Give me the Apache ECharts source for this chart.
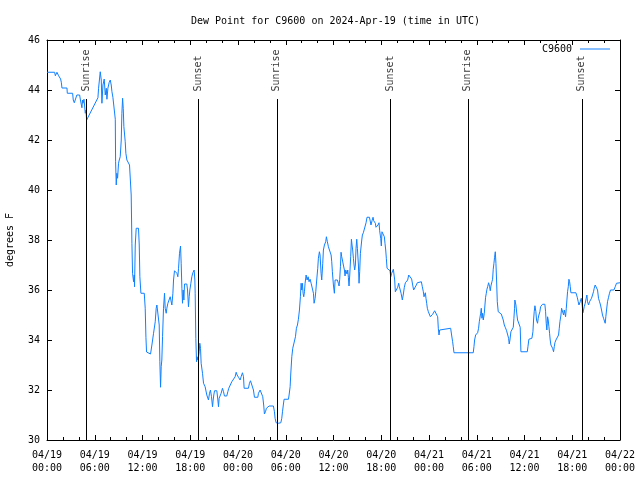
<!DOCTYPE html>
<html><head><meta charset="utf-8">
<script src="https://cdn.jsdelivr.net/npm/echarts@6/dist/echarts.min.js"></script>
<style>html,body{margin:0;background:#fff}#c{width:640px;height:480px}</style>
</head><body><div id="c"></div>
<script>
const titleText = 'Dew Point for C9600 on 2024-Apr-19 (time in UTC)';
const seriesName = 'C9600';
const yAxisName = 'degrees F';
// hours since 2024-04-19 00:00 UTC
const sunriseHours = [4.97, 28.95, 52.92];
const sunsetHours = [19.03, 43.17, 67.24];
const yTicks = [30, 32, 34, 36, 38, 40, 42, 44, 46];
// [hours since 04/19 00:00 UTC, dew point °F]
const dewPoint = [
[0,44.71],[0.96,44.71],[1.05,44.57],[1.17,44.57],[1.25,44.71],[1.38,44.71],[1.46,44.57],[1.54,44.57],[1.71,44.44],[1.80,44.31],[1.88,44.08],[2.51,44.08],[2.55,43.87],[3.22,43.87],[3.30,43.6],[3.43,43.49],[3.64,43.49],[3.75,43.8],[4.10,43.8],[4.20,43.6],[4.39,43.29],[4.45,43.6],[4.52,43.47],[4.65,43.63],[4.72,43.63],[4.81,43.07],[4.89,43.2],[4.98,42.8],
[6.40,43.69],[6.48,44.07],[6.69,44.73],[6.82,44.4],[6.90,43.47],[7.03,44.2],[7.19,44.44],[7.32,43.8],[7.45,44.07],[7.53,43.63],[7.65,44.07],[7.82,44.31],[7.95,44.4],[8.07,44.2],[8.16,43.93],[8.28,43.71],[8.49,43.71],[8.58,42.83],[8.62,41.13],[8.70,40.2],[8.78,40.67],[8.87,40.47],[8.99,41.07],[9.08,41.2],[9.20,41.33],[9.33,42.0],[9.41,43.07],[9.50,43.67],[9.58,43.27],[9.66,42.53],[9.83,41.93],[9.91,41.47],[10.04,41.2],[10.25,41.13],[10.37,41.0],[10.50,40.93],[10.58,39.8],[10.67,37.87],[10.75,36.67],[10.88,36.33],[10.96,36.6],[11.00,36.13],[11.09,37.8],[11.21,38.47],[11.50,38.47],[11.59,37.8],[11.67,36.53],[11.80,35.87],[12.22,35.87],[12.34,35.27],[12.43,34.11],[12.51,33.52],[12.76,33.52],[13.01,33.44],[13.18,33.8],[13.39,34.27],[13.60,34.73],[13.72,35.27],[13.81,35.4],[14.02,35.4],[14.10,34.6],[14.18,33.13],[14.27,32.11],[14.35,32.93],[14.43,33.2],[14.52,34.13],[14.64,35.27],[14.77,35.87],[14.85,35.27],[14.98,35.07],[15.06,35.27],[15.19,35.47],[15.35,35.53],[15.48,35.73],[15.61,35.8],[15.69,35.4],[15.82,35.87],[15.90,36.4],[16.02,36.77],[16.32,36.67],[16.44,36.53],[16.53,36.87],[16.65,37.47],[16.78,37.76],[16.86,37.07],[16.95,36.07],[17.03,35.47],[17.11,36.0],[17.20,35.6],[17.28,36.24],[17.57,36.24],[17.66,36.0],[17.78,35.33],
[17.87,35.73],[17.95,36.0],[18.08,36.27],[18.20,36.53],[18.33,36.69],[18.41,36.67],[18.49,36.8],[18.58,36.4],[18.62,35.87],[18.70,34.07],[18.79,33.13],[18.87,33.33],[18.95,33.2],[19.04,33.33],[19.12,33.53],[19.20,33.87],[19.29,33.67],[19.37,33.07],[19.54,32.67],[19.67,32.27],[19.87,32.13],[20.08,31.8],[20.21,31.87],[20.29,31.6],[20.42,31.87],[20.54,32.0],[20.67,31.73],[20.80,31.33],[20.88,31.6],[20.96,31.8],[21.05,31.97],[21.34,31.97],[21.47,31.6],[21.55,31.33],[21.63,31.67],[21.76,31.6],[21.88,31.87],[22.05,32.07],[22.18,31.93],[22.30,31.76],[22.59,31.76],[22.72,31.93],[22.84,32.07],[23.06,32.13],[23.22,32.33],[23.47,32.4],[23.64,32.53],[23.77,32.71],[23.89,32.6],[24.06,32.51],[24.27,32.4],[24.39,32.53],[24.56,32.69],[24.69,32.53],[24.77,32.07],[25.31,32.07],[25.44,32.27],[25.57,32.37],[25.82,32.37],[25.94,32.0],[26.07,31.71],[26.49,31.71],[26.57,31.87],[26.78,32.0],[26.99,32.03],[27.11,31.73],[27.24,31.36],[27.32,31.04],[27.45,31.13],[27.57,31.27],[27.74,31.33],[27.91,31.36],[28.45,31.36],[28.58,31.13],[28.66,30.87],[28.79,30.69],[29.08,30.67],[29.38,30.69],[29.50,30.87],[29.59,31.13],[29.71,31.44],[29.79,31.63],[30.34,31.63],[30.42,31.8],[30.55,32.13],[30.63,32.64],[30.76,33.33],[30.88,33.67],[31.09,33.71],[31.22,34.13],[31.34,34.47],[31.47,34.6],[31.59,34.83],[31.72,35.2],[31.84,35.73],[31.93,36.27],[32.01,36.0],[32.09,36.27],[32.18,35.87],[32.26,35.73],[32.35,35.93],[32.43,36.27],[32.56,36.6],[32.68,36.4],[32.81,36.53],[32.93,36.33],[33.06,36.43],[33.19,36.27],[33.35,36.27],[33.48,35.87],[33.56,35.47],[33.69,35.67],[33.77,35.93],[33.89,36.4],[34.02,36.87],[34.10,37.27],[34.23,37.53],[34.31,37.4],[34.44,36.67],[34.52,36.4],[34.65,37.07],[34.73,37.6],[34.86,37.8],[35.02,37.93],[35.11,38.13],[35.23,37.93],[35.36,37.73],[35.49,37.6],[35.61,37.6],[35.70,37.4],[35.78,37.13],[35.86,36.73],[35.99,36.2],[36.11,35.87],
[36.20,36.4],[36.28,36.43],[36.49,36.4],[36.61,36.27],[36.70,36.16],[36.78,36.43],[36.87,36.93],[36.95,37.51],[37.03,37.33],[37.12,37.2],[37.24,37.0],[37.37,36.8],[37.45,36.56],[37.54,36.8],[37.62,36.87],[37.70,36.64],[37.79,36.8],[37.87,36.51],[37.95,36.16],[38.04,36.6],[38.16,37.33],[38.25,38.03],[38.33,37.8],[38.41,37.6],[38.50,37.27],[38.58,37.0],[38.66,36.8],[38.75,37.0],[38.83,37.67],[38.92,38.03],[39.00,37.67],[39.13,37.0],[39.21,36.27],[39.29,36.73],[39.38,37.47],[39.46,37.51],[39.55,38.0],[39.63,38.2],[39.75,38.29],[39.84,38.27],[39.96,38.33],[40.09,38.69],[40.21,38.91],[40.51,38.91],[40.59,38.8],[40.71,38.6],[40.84,38.77],[40.97,38.91],[41.05,38.77],[41.13,38.69],[41.26,38.67],[41.34,38.51],[41.47,38.43],[41.59,38.6],[41.72,38.69],[41.80,38.37],[41.93,38.07],[42.01,37.76],[42.09,38.33],[42.18,38.4],[42.30,38.27],[42.39,38.13],[42.47,37.87],[42.56,37.6],[42.64,37.27],[42.73,36.87],[42.85,36.87],[42.98,36.8],[43.10,36.77],[43.19,36.53],[43.31,36.67],[43.44,36.73],[43.52,36.83],[43.60,36.87],[43.69,36.4],[43.77,35.93],[43.94,35.93],[44.07,36.11],[44.19,36.27],[44.28,36.13],[44.36,36.07],[44.49,35.87],[44.57,35.8],[44.65,35.6],[44.78,35.84],[44.90,36.11],[45.03,36.29],[45.19,36.33],[45.32,36.4],[45.45,36.6],[45.70,36.6],[45.82,36.44],[45.95,36.2],[46.07,36.0],[46.28,36.0],[46.41,36.2],[46.53,36.29],[46.66,36.33],[47.04,36.33],[47.16,36.13],[47.29,35.93],[47.37,35.73],[47.45,35.8],[47.54,35.89],[47.62,35.67],[47.71,35.47],[47.79,35.27],[47.92,35.13],[48.04,35.07],[48.17,34.93],[48.33,34.93],[48.46,35.03],[48.59,35.09],[48.71,35.17],[48.96,35.17],[49.09,34.93],[49.17,34.47],[49.26,34.2],[49.34,34.4],[49.46,34.47],[50.72,34.47],[50.84,34.2],[50.97,33.93],[51.05,33.73],[51.14,33.49],[53.56,33.49],[53.65,33.73],[53.73,34.0],[53.86,34.2],[53.98,34.2],[54.11,34.29],[54.23,34.47],[54.32,34.73],
[54.49,35.07],[54.57,35.27],[54.65,34.87],[54.74,35.07],[54.82,34.8],[54.95,35.07],[55.03,35.4],[55.11,35.71],[55.20,35.87],[55.28,36.03],[55.37,36.13],[55.49,36.29],[55.62,36.13],[55.70,35.97],[55.78,36.16],[55.91,36.33],[55.99,36.43],[56.07,36.83],[56.16,37.07],[56.24,37.31],[56.33,37.53],[56.41,37.07],[56.49,36.4],[56.58,35.53],[56.70,35.13],[56.83,35.07],[57.08,35.04],[57.20,34.96],[57.33,34.8],[57.46,34.6],[57.58,34.51],[57.75,34.37],[57.88,34.33],[58.00,34.07],[58.08,33.84],[58.17,34.0],[58.29,34.33],[58.46,34.37],[58.59,34.51],[58.67,34.87],[58.75,35.27],[58.79,35.6],[58.92,35.4],[59.05,35.0],[59.13,34.8],[59.26,34.87],[59.38,34.73],[59.46,34.51],[59.55,33.53],[60.35,33.53],[60.43,33.73],[60.55,34.03],[60.68,34.03],[60.93,34.07],[61.06,34.33],[61.14,34.8],[61.22,35.13],[61.31,35.37],[61.43,35.13],[61.51,34.8],[61.64,34.67],[61.72,34.87],[61.81,35.0],[61.93,35.13],[62.02,35.33],[62.10,35.4],[62.27,35.43],[62.56,35.43],[62.65,35.13],[62.73,34.67],[62.81,34.4],[62.90,34.93],[62.98,34.8],[63.07,34.53],[63.15,34.27],[63.23,34.0],[63.32,33.8],[63.44,33.84],[63.53,33.67],[63.65,33.53],[63.74,33.73],[63.82,33.89],[63.95,34.0],[64.16,34.03],[64.28,34.2],[64.37,34.47],[64.45,34.73],[64.58,35.0],[64.66,35.27],[64.83,35.2],[64.91,35.0],[65.00,35.2],[65.08,35.07],[65.16,34.93],[65.25,35.27],[65.33,35.6],[65.41,35.93],[65.50,36.13],[65.58,36.43],[65.67,36.33],[65.75,36.13],[65.83,35.89],[66.46,35.89],[66.63,35.71],[66.75,35.53],[66.84,35.4],[66.92,35.33],[67.00,35.53],[67.13,35.67],[67.25,35.4],[67.34,35.09],[67.42,35.2],[67.50,35.33],[67.63,35.47],[67.75,35.67],[67.84,35.8],[67.92,35.53],[68.05,35.4],[68.17,35.53],[68.30,35.6],[68.42,35.67],[68.55,35.8],[68.67,35.93],[68.76,36.07],[68.88,36.2],[68.97,36.13],[69.05,36.27],[69.18,36.0],[69.30,35.67],[69.43,35.53],[69.55,35.4],[69.68,35.2],[69.80,35.0],[69.93,34.87],[70.05,34.8],[70.14,34.67],[70.22,34.93],[70.31,35.2],[70.43,35.53],[70.56,35.71],[70.68,35.87],[70.81,36.0],[71.23,36.0],[71.40,36.13],[71.56,36.27],[71.69,36.29],[72.0,36.29]
];

const FONT = 'DejaVu Sans Mono';
const LINE = '#1080ff';
const LINE_TOP = 43.64;   // where sunrise/sunset lines stop (°F scale)
const LABEL_Y = 43.92;    // where sunrise/sunset labels start

function xLabel(h) {
  const d = 19 + Math.floor(h / 24);
  const hh = h % 24;
  return '04/' + d + '\n' + String(hh).padStart(2, '0') + ':00';
}

const events = sunriseHours.map(t => ({t, name: 'Sunrise'}))
  .concat(sunsetHours.map(t => ({t, name: 'Sunset'})));

const baseX = {
  type: 'value', min: 0, max: 72, interval: 6,
  axisLine: {show: true, onZero: false, lineStyle: {color: '#000', width: 1}},
  axisTick: {show: true, inside: true, length: 5, lineStyle: {color: '#000'}},
  minorTick: {show: true, splitNumber: 3, length: 3, lineStyle: {color: '#000'}},
  splitLine: {show: false}, minorSplitLine: {show: false}
};
const baseY = {
  type: 'value', min: 30, max: 46, interval: 2,
  axisLine: {show: true, onZero: false, lineStyle: {color: '#000', width: 1}},
  axisTick: {show: true, inside: true, length: 5, lineStyle: {color: '#000'}},
  splitLine: {show: false}
};

const chart = echarts.init(document.getElementById('c'), null, {renderer: 'canvas'});
chart.setOption({
  animation: false,
  backgroundColor: '#fff',
  textStyle: {fontFamily: FONT},
  title: {
    text: titleText, left: 186, top: 11,
    textStyle: {fontSize: 10, fontWeight: 'normal', color: '#000', fontFamily: FONT}
  },
  legend: {
    data: [{name: seriesName, icon: 'rect'}],
    right: 30, top: 44, padding: 0, itemWidth: 30, itemHeight: 1, align: 'right',
    textStyle: {fontSize: 10, color: '#000', fontFamily: FONT, padding: [0, 3, 0, 0]}
  },
  grid: {left: 47, right: 20, top: 40, bottom: 40, containLabel: false, outerBoundsMode: 'none'},
  xAxis: [
    Object.assign({}, baseX, {
      position: 'bottom',
      axisLabel: {formatter: xLabel, fontSize: 10, color: '#000', lineHeight: 13, margin: 9, fontFamily: FONT}
    }),
    Object.assign({}, baseX, {position: 'top', axisLabel: {show: false}})
  ],
  yAxis: [
    Object.assign({}, baseY, {
      position: 'left',
      name: yAxisName, nameLocation: 'middle', nameGap: 32,
      nameTextStyle: {fontSize: 10, color: '#000', fontFamily: FONT},
      axisLabel: {fontSize: 10, color: '#000', margin: 7, fontFamily: FONT,
        formatter: v => yTicks.indexOf(v) >= 0 ? String(v) : ''}
    }),
    Object.assign({}, baseY, {position: 'right', axisLabel: {show: false}})
  ],
  series: [
    {
      name: seriesName, type: 'line', data: dewPoint,
      showSymbol: false, symbol: 'none',
      lineStyle: {width: 1, color: LINE}, itemStyle: {color: LINE},
      z: 3
    },
    {
      name: 'events', type: 'scatter', z: 2, silent: true,
      symbolSize: 1, itemStyle: {color: 'rgba(0,0,0,0)'},
      data: events.map(e => ({name: e.name, value: [e.t, LABEL_Y]})),
      label: {
        show: true, formatter: '{b}', rotate: 90, position: [0, 0],
        align: 'left', verticalAlign: 'middle',
        fontSize: 10, color: '#000', fontFamily: FONT
      },
      markLine: {
        silent: true, symbol: ['none', 'none'], animation: false,
        lineStyle: {color: '#000', width: 1, type: 'solid'},
        label: {show: false},
        data: events.map(e => [{coord: [e.t, 30]}, {coord: [e.t, LINE_TOP]}])
      }
    }
  ]
});
</script></body></html>
